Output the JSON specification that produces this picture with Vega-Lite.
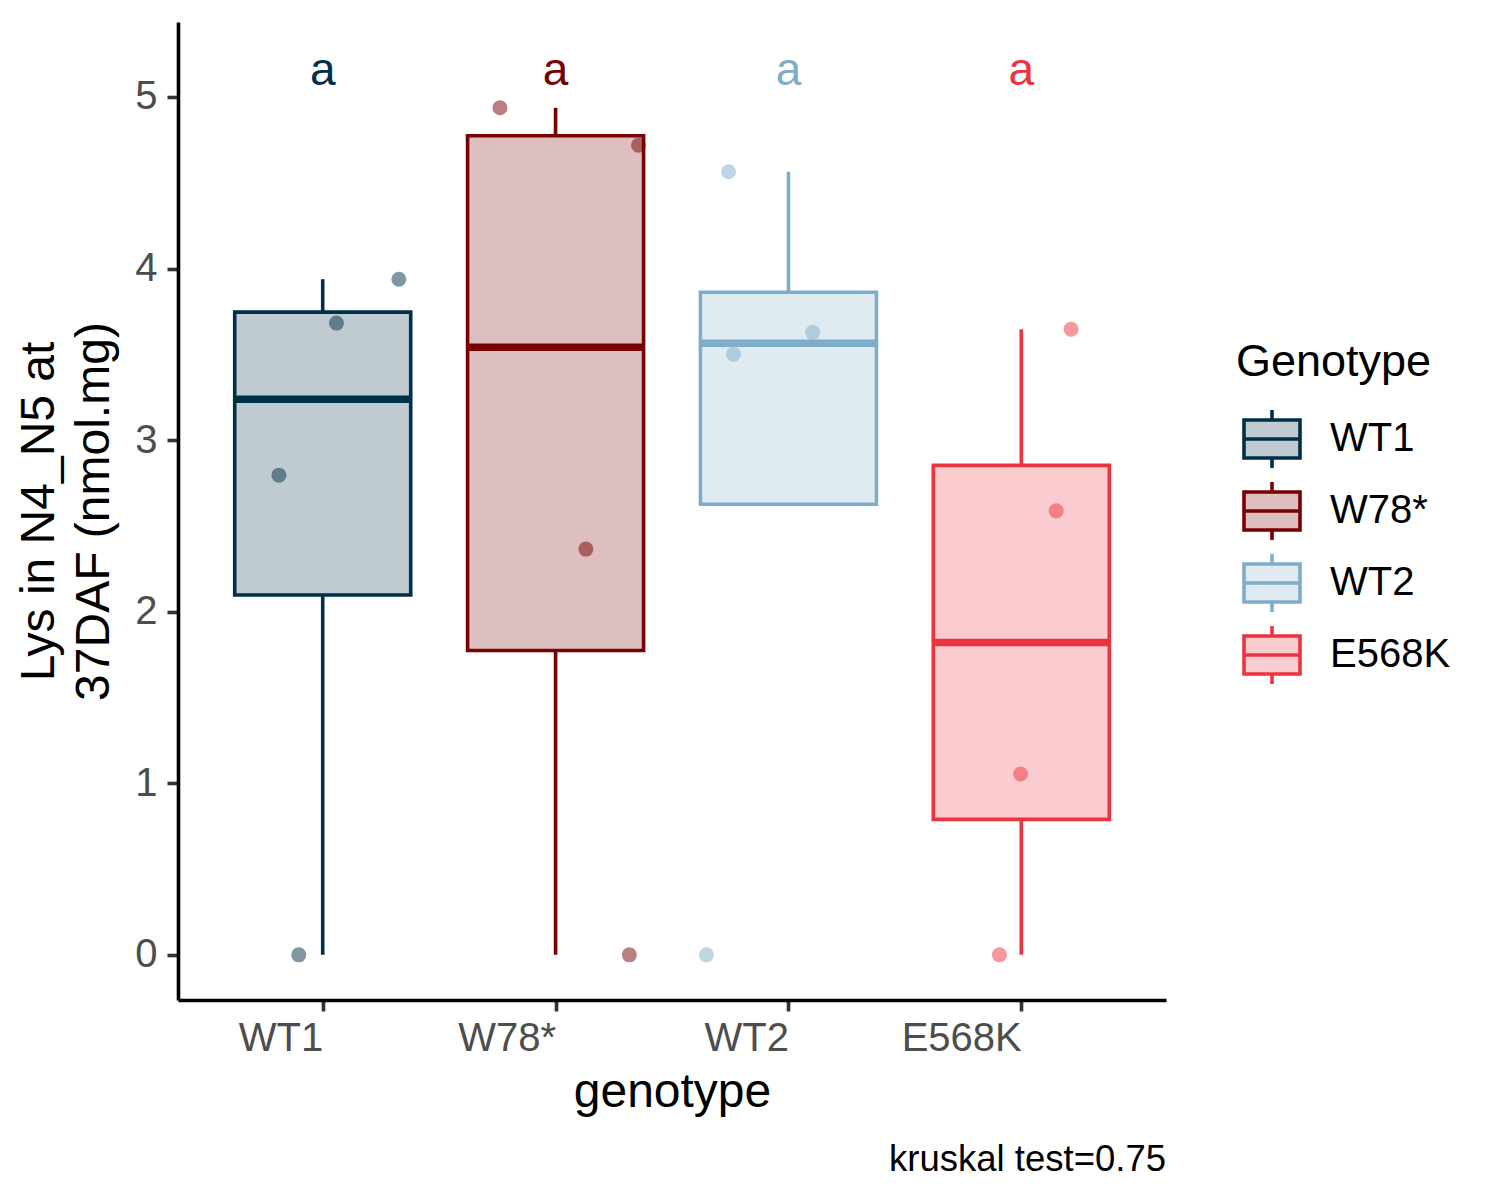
{
  "$schema": "https://vega.github.io/schema/vega-lite/v6.json",
  "description": "Lys in N4_N5 at 37DAF by genotype, boxplot with jittered points.",
  "width": 988,
  "height": 978,
  "autosize": {"type": "none"},
  "padding": {"left": 178, "top": 22, "right": 334, "bottom": 200},
  "background": "white",
  "title": {
    "text": "kruskal test=0.75",
    "orient": "bottom",
    "anchor": "end",
    "frame": "group",
    "fontSize": 36.5,
    "fontWeight": "normal",
    "color": "black",
    "offset": 26
  },
  "datasets": {
    "boxes": [
      {"genotype": "WT1", "pos": 1, "lo": 0, "q1": 2.097, "med": 3.239, "q3": 3.746, "hi": 3.938},
      {"genotype": "W78*", "pos": 2, "lo": 0, "q1": 1.774, "med": 3.542, "q3": 4.774, "hi": 4.937},
      {"genotype": "WT2", "pos": 3, "lo": 2.626, "q1": 2.626, "med": 3.564, "q3": 3.862, "hi": 4.564},
      {"genotype": "E568K", "pos": 4, "lo": 0, "q1": 0.79, "med": 1.821, "q3": 2.853, "hi": 3.647}
    ],
    "points": [
      {"genotype": "WT1", "x": 0.897, "value": 0},
      {"genotype": "WT1", "x": 0.812, "value": 2.796},
      {"genotype": "WT1", "x": 1.059, "value": 3.682},
      {"genotype": "WT1", "x": 1.327, "value": 3.938},
      {"genotype": "W78*", "x": 1.761, "value": 4.937},
      {"genotype": "W78*", "x": 2.356, "value": 4.719},
      {"genotype": "W78*", "x": 2.13, "value": 2.365},
      {"genotype": "W78*", "x": 2.317, "value": 0},
      {"genotype": "WT2", "x": 2.743, "value": 4.564},
      {"genotype": "WT2", "x": 3.104, "value": 3.627},
      {"genotype": "WT2", "x": 2.764, "value": 3.501},
      {"genotype": "WT2", "x": 2.648, "value": 0},
      {"genotype": "E568K", "x": 4.214, "value": 3.647},
      {"genotype": "E568K", "x": 4.15, "value": 2.588},
      {"genotype": "E568K", "x": 3.997, "value": 1.054},
      {"genotype": "E568K", "x": 3.906, "value": 0}
    ],
    "letters": [
      {"genotype": "WT1", "pos": 1, "y": 5.07, "label": "a"},
      {"genotype": "W78*", "pos": 2, "y": 5.07, "label": "a"},
      {"genotype": "WT2", "pos": 3, "y": 5.07, "label": "a"},
      {"genotype": "E568K", "pos": 4, "y": 5.07, "label": "a"}
    ]
  },
  "encoding": {
    "x": {
      "type": "quantitative",
      "scale": {"domain": [0.4, 4.6], "nice": false, "zero": false},
      "axis": {
        "title": "genotype",
        "values": [1, 2, 3, 4],
        "labelExpr": "datum.value == 1 ? 'WT1' : datum.value == 2 ? 'W78*' : datum.value == 3 ? 'WT2' : 'E568K'",
        "labelAlign": "right",
        "labelPadding": 7,
        "titlePadding": 10
      }
    },
    "color": {
      "field": "genotype",
      "type": "nominal",
      "title": "Genotype",
      "scale": {"domain": ["WT1", "W78*", "WT2", "E568K"], "range": ["#003049", "#780000", "#7FACC9", "#EE3340"]},
      "legend": {
        "symbolType": "M-1,-0.68H1V0.68H-1Z M-1,0H1 M0,-0.68V-1.04 M0,0.68V1.04",
        "encode": {
          "symbols": {
            "update": {
              "fill": {"scale": "color", "field": "value"},
              "stroke": {"scale": "color", "field": "value"},
              "fillOpacity": {"value": 0.25},
              "strokeWidth": {"value": 3.6}
            }
          }
        }
      }
    }
  },
  "layer": [
    {
      "data": {"name": "boxes"},
      "mark": {"type": "rule", "strokeWidth": 3.6},
      "encoding": {
        "x": {"field": "pos"},
        "y": {
          "field": "q3",
          "type": "quantitative",
          "scale": {"domain": [-0.263, 5.437], "nice": false, "zero": false},
          "axis": {"values": [0, 1, 2, 3, 4, 5], "format": "d"},
          "title": ["Lys in N4_N5 at", "37DAF (nmol.mg)"]
        },
        "y2": {"field": "hi"}
      }
    },
    {
      "data": {"name": "boxes"},
      "mark": {"type": "rule", "strokeWidth": 3.6},
      "encoding": {
        "x": {"field": "pos"},
        "y": {"field": "lo", "type": "quantitative", "title": ["Lys in N4_N5 at", "37DAF (nmol.mg)"]},
        "y2": {"field": "q1"}
      }
    },
    {
      "data": {"name": "boxes"},
      "mark": {"type": "bar", "size": 176, "fillOpacity": 0.25, "orient": "vertical"},
      "encoding": {
        "x": {"field": "pos"},
        "y": {"field": "q3", "type": "quantitative", "title": ["Lys in N4_N5 at", "37DAF (nmol.mg)"]},
        "y2": {"field": "q1"}
      }
    },
    {
      "data": {"name": "boxes"},
      "mark": {"type": "bar", "size": 176, "filled": false, "strokeWidth": 3.6, "orient": "vertical"},
      "encoding": {
        "x": {"field": "pos"},
        "y": {"field": "q3", "type": "quantitative", "title": ["Lys in N4_N5 at", "37DAF (nmol.mg)"]},
        "y2": {"field": "q1"}
      }
    },
    {
      "data": {"name": "boxes"},
      "mark": {"type": "tick", "orient": "horizontal", "size": 176, "thickness": 7.5, "opacity": 1},
      "encoding": {
        "x": {"field": "pos"},
        "y": {"field": "med", "type": "quantitative", "title": ["Lys in N4_N5 at", "37DAF (nmol.mg)"]}
      }
    },
    {
      "data": {"name": "points"},
      "mark": {"type": "circle", "size": 225, "opacity": 0.5},
      "encoding": {
        "x": {"field": "x"},
        "y": {"field": "value", "type": "quantitative", "title": ["Lys in N4_N5 at", "37DAF (nmol.mg)"]}
      }
    },
    {
      "data": {"name": "letters"},
      "mark": {"type": "text", "fontSize": 46, "baseline": "alphabetic", "align": "center"},
      "encoding": {
        "x": {"field": "pos"},
        "y": {"field": "y", "type": "quantitative", "title": ["Lys in N4_N5 at", "37DAF (nmol.mg)"]},
        "text": {"field": "label"}
      }
    }
  ],
  "config": {
    "font": "Liberation Sans",
    "view": {"stroke": null},
    "axis": {
      "grid": false,
      "domainColor": "black",
      "domainWidth": 3.6,
      "tickColor": "#333333",
      "tickWidth": 3.6,
      "tickSize": 11,
      "labelFontSize": 40,
      "labelColor": "#4D4D4D",
      "labelFont": "Liberation Sans",
      "titleFontSize": 48,
      "titleFontWeight": "normal",
      "titleColor": "black",
      "titleFont": "Liberation Sans"
    },
    "axisY": {
      "labelPadding": 10,
      "titlePadding": 16,
      "titleLineHeight": 55
    },
    "legend": {
      "orient": "none",
      "legendX": 1058,
      "legendY": 318,
      "padding": 0,
      "titleFontSize": 45,
      "titleFontWeight": "normal",
      "titleColor": "black",
      "titleBaseline": "top",
      "titlePadding": 24,
      "titleLimit": 400,
      "labelFontSize": 40,
      "labelColor": "black",
      "labelLimit": 300,
      "labelOffset": 28,
      "symbolSize": 3136,
      "symbolOffset": 6,
      "symbolStrokeWidth": 3.6,
      "symbolOpacity": 1,
      "rowPadding": -2
    }
  }
}
